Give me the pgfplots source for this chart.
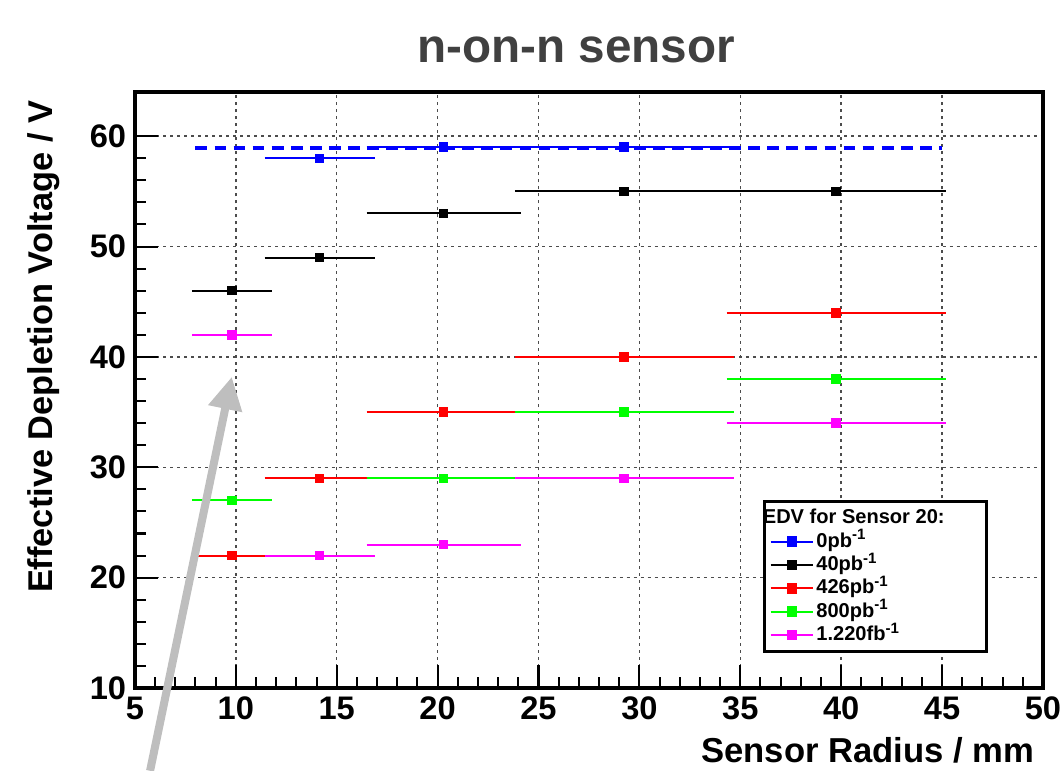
\documentclass[border=0pt]{standalone}
\usepackage{fontspec}
\setmainfont{Liberation Sans}
\usepackage{pgfplots}
\pgfplotsset{compat=1.18}
\usetikzlibrary{arrows.meta}
\definecolor{rootgreen}{RGB}{0,255,0}
\definecolor{rootmag}{RGB}{255,0,255}
\definecolor{arrowgray}{RGB}{190,190,190}

\pgfplotsset{
  edv/.style={only marks, mark=square*, mark size=1.7pt, forget plot,
    error bars/x dir=both, error bars/x explicit,
    error bars/error bar style={line width=0.8pt, solid},
    error bars/error mark options={line width=0.8pt, mark size=1.4pt}},
  edvleg/.style={mark=square*, mark size=1.7pt, line width=0.8pt, solid},
}

\begin{document}
\begin{tikzpicture}
\begin{axis}[
  scale only axis, width=362pt, height=237.6pt,
  xmin=5, xmax=50, ymin=10, ymax=64,
  xtick={5,10,...,50}, ytick={10,20,...,60},
  minor x tick num=4, minor y tick num=4,
  tick pos=left, tick align=inside,
  major tick length=9pt, minor tick length=4.5pt,
  every tick/.style={black, line width=0.8pt},
  grid=major,
  major grid style={black!70, line width=0.6pt, dash pattern=on 1.2pt off 1.6pt},
  axis line style={line width=1.3pt},
  /pgf/number format/assume math mode=true,
  ticklabel style={font=\bfseries\fontsize{13}{13}\selectfont},
  every axis title shift=0pt,
  title={n-on-n sensor},
  title style={font=\bfseries\fontsize{19}{19}\selectfont, text=black!75,
    at={(rel axis cs:0.486,1.0488)}, anchor=base},
  xlabel={Sensor Radius / mm},
  xlabel style={font=\bfseries\fontsize{13.8}{14}\selectfont,
    at={(rel axis cs:1,-0.1246)}, anchor=base east},
  ylabel={Effective Depletion Voltage / V},
  ylabel style={font=\bfseries\fontsize{13.7}{14}\selectfont,
    at={(rel axis cs:-0.0903,1)}, anchor=base east},
  legend cell align=left,
  legend style={at={(rel axis cs:0.6916,0.3154)}, anchor=north west,
    draw=black, line width=1.3pt, fill=white,
    font=\bfseries\fontsize{8}{9}\selectfont,
    row sep=0pt, inner sep=2pt,
    nodes={inner sep=0.8pt, text height=6pt, text depth=1.7pt}},
  clip=false,
]
\coordinate (axbl) at (rel axis cs:0,0);
\coordinate (axtr) at (rel axis cs:1,1);
% 0 pb^-1
\addplot[blue, edv] table[x=x, y=y, x error=ex] {
x     y   ex
14.15 58  2.55
20.3  59  3.65
29.25 59  5.25
};
% 40 pb^-1
\addplot[black, edv] table[x=x, y=y, x error=ex] {
x     y   ex
9.8   46  1.8
14.15 49  2.55
20.3  53  3.65
29.25 55  5.25
39.75 55  5.25
};
% 426 pb^-1
\addplot[red, edv] table[x=x, y=y, x error=ex] {
x     y   ex
9.8   22  1.8
14.15 29  2.55
20.3  35  3.65
29.25 40  5.25
39.75 44  5.25
};
% 800 pb^-1
\addplot[rootgreen, edv] table[x=x, y=y, x error=ex] {
x     y   ex
9.8   27  1.8
20.3  29  3.65
29.25 35  5.25
39.75 38  5.25
};
% 1.220 fb^-1
\addplot[rootmag, edv] table[x=x, y=y, x error=ex] {
x     y   ex
9.8   42  1.8
14.15 22  2.55
20.3  23  3.65
29.25 29  5.25
39.75 34  5.25
};
% unirradiated level
\addplot[blue, line width=1.7pt, dash pattern=on 4.7pt off 2.9pt, forget plot]
  coordinates {(8,58.9) (45,58.9)};

\addlegendimage{empty legend}
\addlegendentry{\hspace{-0.75cm}EDV for Sensor 20:\hspace{14pt}\null}
\addlegendimage{blue, edvleg}
\addlegendentry{0pb\textsuperscript{-1}}
\addlegendimage{black, edvleg}
\addlegendentry{40pb\textsuperscript{-1}}
\addlegendimage{red, edvleg}
\addlegendentry{426pb\textsuperscript{-1}}
\addlegendimage{rootgreen, edvleg}
\addlegendentry{800pb\textsuperscript{-1}}
\addlegendimage{rootmag, edvleg}
\addlegendentry{1.220fb\textsuperscript{-1}}

\draw[arrowgray, line width=3.2pt, -{Triangle[length=13pt, width=13pt]}]
  (axis cs:5.75,2.5) -- (axis cs:9.8,38.2);
\end{axis}
\pgfresetboundingbox
\path[use as bounding box] ([shift={(-53.8pt,-32.7pt)}]axbl)
  rectangle ([shift={(7.6pt,36.7pt)}]axtr);
\end{tikzpicture}
\end{document}
